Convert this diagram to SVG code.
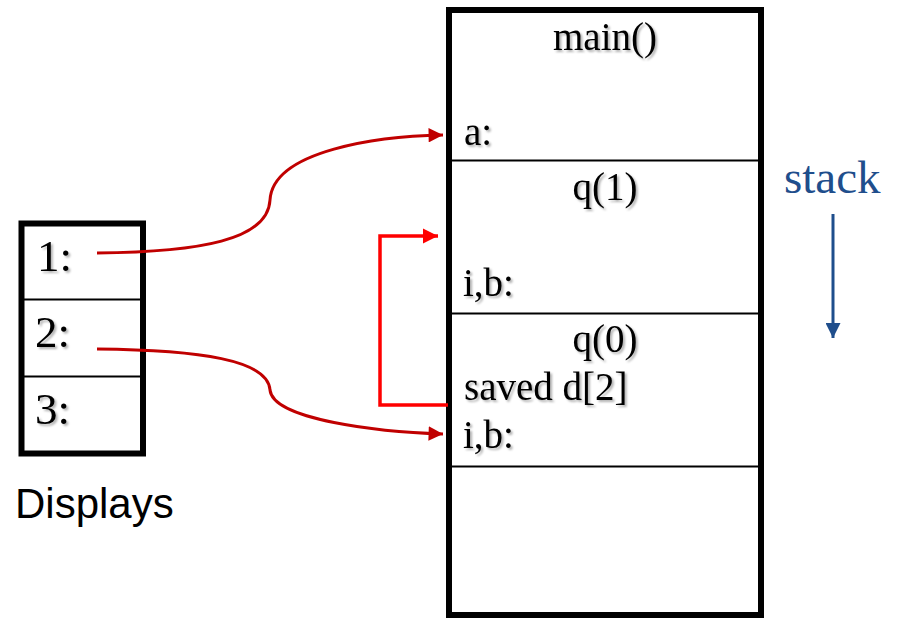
<svg xmlns="http://www.w3.org/2000/svg" width="899" height="621" viewBox="0 0 899 621">
  <style>
    .frame { fill: #fff; stroke: #000; stroke-width: 6; }
    .div { stroke: #000; stroke-width: 2; }
    .serif { font-family: "Liberation Serif", "Times New Roman", serif; fill: #000; }
    .lbl { font-size: 39px; }
    .slot { font-size: 45px; }
    .mid { text-anchor: middle; }
    .shadow { filter: url(#txtShadow); }
    .link { fill: none; stroke: #C00000; stroke-width: 3; }
    .back { fill: none; stroke: #FF0000; stroke-width: 3.5; }
  </style>
  <defs>
    <filter id="txtShadow" x="-10%" y="-10%" width="130%" height="130%">
      <feDropShadow dx="2" dy="2" stdDeviation="1" flood-color="#000" flood-opacity="0.3"/>
    </filter>
    <marker id="arrDark" viewBox="0 0 10 10" refX="10" refY="5" markerWidth="5" markerHeight="4.8" markerUnits="strokeWidth" orient="auto">
      <path d="M0,0 L10,5 L0,10 z" fill="#C00000"/>
    </marker>
    <marker id="arrRed" viewBox="0 0 10 10" refX="10" refY="5" markerWidth="4.3" markerHeight="4.5" markerUnits="strokeWidth" orient="auto">
      <path d="M0,0 L10,5 L0,10 z" fill="#FF0000"/>
    </marker>
    <marker id="arrBlue" viewBox="0 0 10 10" refX="10" refY="5" markerWidth="5" markerHeight="5" markerUnits="strokeWidth" orient="auto">
      <path d="M0,0 L10,5 L0,10 z" fill="#1F4E8C"/>
    </marker>
  </defs>

  <!-- call stack with its frames -->
  <g id="stack">
    <rect class="frame" x="449" y="10" width="312" height="605"/>
    <line class="div" x1="449" y1="160.5" x2="761" y2="160.5"/>
    <line class="div" x1="449" y1="313.5" x2="761" y2="313.5"/>
    <line class="div" x1="449" y1="466.5" x2="761" y2="466.5"/>
  </g>
  <g id="frame-main" class="serif lbl shadow">
    <text class="mid" x="605" y="50">main()</text>
    <text x="464" y="145">a:</text>
  </g>
  <g id="frame-q1" class="serif lbl shadow">
    <text class="mid" x="605" y="200">q(1)</text>
    <text x="463" y="296">i,b:</text>
  </g>
  <g id="frame-q0" class="serif lbl shadow">
    <text class="mid" x="605" y="352">q(0)</text>
    <text x="464" y="400">saved d[2]</text>
    <text x="463" y="448">i,b:</text>
  </g>

  <!-- display table -->
  <g id="displays">
    <rect class="frame" x="21.5" y="223.5" width="121.5" height="230"/>
    <line class="div" x1="21.5" y1="299.5" x2="143" y2="299.5"/>
    <line class="div" x1="21.5" y1="376.5" x2="143" y2="376.5"/>
    <g class="serif slot shadow">
      <text x="37" y="271">1:</text>
      <text x="35" y="347">2:</text>
      <text x="35" y="424">3:</text>
    </g>
    <text x="15" y="518" font-family="'Liberation Sans', Arial, sans-serif" font-size="42" fill="#000">Displays</text>
  </g>

  <!-- growth direction -->
  <g id="stack-dir">
    <text x="784" y="193" font-family="'Liberation Serif', 'Times New Roman', serif" font-size="47" fill="#1F4E8C">stack</text>
    <line x1="833" y1="214" x2="833" y2="338" stroke="#1F4E8C" stroke-width="3" marker-end="url(#arrBlue)"/>
  </g>

  <!-- pointers -->
  <g id="connectors">
    <path class="link" d="M97,253 C200,252 268,240 270,200 C273,150 380,136 443,135" marker-end="url(#arrDark)"/>
    <path class="link" d="M97,349 C200,350 268,360 270,390 C273,420 380,432 443,434" marker-end="url(#arrDark)"/>
    <path class="back" d="M448,405 L380,405 L380,236 L438,236" marker-end="url(#arrRed)"/>
  </g>
</svg>
